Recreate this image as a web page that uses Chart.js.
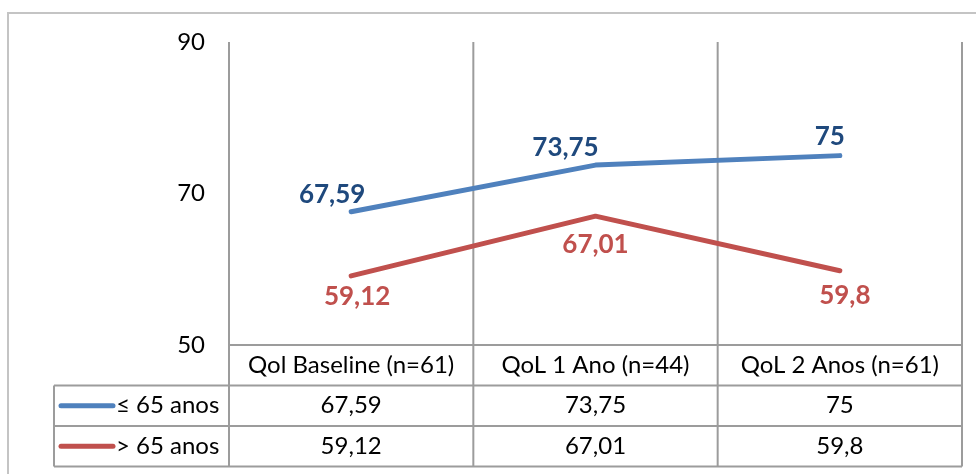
<!DOCTYPE html>
<html>
<head>
<meta charset="utf-8">
<script src="https://cdn.jsdelivr.net/npm/chart.js@4.4.1/dist/chart.umd.min.js"></script>
<style>
  html, body { margin: 0; padding: 0; background: #ffffff; }
  canvas { display: block; }
</style>
</head>
<body>
<canvas id="chart" width="976" height="474"></canvas>
<script>
// Quality-of-life scores by age group
const categories = ['Qol Baseline (n=61)', 'QoL 1 Ano (n=44)', 'QoL 2 Anos (n=61)'];
const seriesNames = ['\u2264 65 anos', '> 65 anos'];
const youngerValues = [67.59, 73.75, 75];
const olderValues = [59.12, 67.01, 59.8];
const yTicks = [50, 70, 90];

const FONT = 'Lato, "Open Sans", sans-serif';
const fmt = v => String(v).replace('.', ',');

const palette = {
  line: ['#4F81BD', '#C0504D'],
  label: ['#1F497D', '#C0504D'],
  grid: '#9c9c9c',
  frame: '#c4c4c4'
};

// Offsets (px) of the value labels from their points
const labelOffsets = [
  [[-19, -17], [-30, -17], [-10, -19]],
  [[6, 21], [0, 28], [5, 25]]
];

const tablePlugin = {
  id: 'dataTable',
  beforeDraw(chart) {
    const ctx = chart.ctx;
    ctx.save();
    ctx.fillStyle = '#ffffff';
    ctx.fillRect(0, 0, chart.width, chart.height);
    // outer frame
    ctx.strokeStyle = palette.frame;
    ctx.lineWidth = 2;
    ctx.beginPath();
    ctx.moveTo(8, chart.height + 2);
    ctx.lineTo(8, 13);
    ctx.lineTo(chart.width + 2, 13);
    ctx.stroke();
    ctx.restore();
  },
  beforeDatasetsDraw(chart) {
    const ctx = chart.ctx;
    const a = chart.chartArea;
    const x = chart.scales.x;
    const rowH = 40.5;
    const tableBottom = a.bottom + rowH * 3;
    const keyLeft = 54;
    ctx.save();
    ctx.strokeStyle = palette.grid;
    ctx.lineWidth = 2;
    ctx.beginPath();
    // column boundaries run from the top of the plot through the table
    const bounds = [a.left];
    categories.forEach((c, i) => {
      const w = x.getPixelForValue(1) - x.getPixelForValue(0);
      bounds.push(x.getPixelForValue(i) + w / 2);
    });
    bounds.forEach(bx => {
      ctx.moveTo(bx, a.top);
      ctx.lineTo(bx, tableBottom);
    });
    // plot bottom / header top
    ctx.moveTo(a.left, a.bottom);
    ctx.lineTo(a.right, a.bottom);
    // series rows
    for (let r = 1; r <= 3; r++) {
      ctx.moveTo(keyLeft, a.bottom + rowH * r);
      ctx.lineTo(a.right, a.bottom + rowH * r);
    }
    ctx.moveTo(keyLeft, a.bottom + rowH);
    ctx.lineTo(keyLeft, tableBottom);
    ctx.stroke();

    // text in the table
    ctx.font = '24px ' + FONT;
    ctx.fillStyle = '#000000';
    ctx.textAlign = 'center';
    ctx.textBaseline = 'middle';
    categories.forEach((c, i) => {
      ctx.fillText(c, x.getPixelForValue(i), a.bottom + rowH * 0.5);
    });
    const rows = [youngerValues, olderValues];
    rows.forEach((vals, r) => {
      const cy = a.bottom + rowH * (r + 1.5);
      vals.forEach((v, i) => {
        ctx.fillText(fmt(v), x.getPixelForValue(i), cy);
      });
      // legend key
      ctx.strokeStyle = palette.line[r];
      ctx.lineWidth = 5;
      ctx.lineCap = 'round';
      ctx.beginPath();
      ctx.moveTo(61, cy);
      ctx.lineTo(113, cy);
      ctx.stroke();
      ctx.textAlign = 'left';
      ctx.fillText(seriesNames[r], 116, cy);
      ctx.textAlign = 'center';
    });
    ctx.restore();
  },
  afterDatasetsDraw(chart) {
    const ctx = chart.ctx;
    ctx.save();
    ctx.font = 'bold 26px ' + FONT;
    ctx.textAlign = 'center';
    ctx.textBaseline = 'middle';
    chart.data.datasets.forEach((ds, d) => {
      const meta = chart.getDatasetMeta(d);
      ctx.fillStyle = palette.label[d];
      meta.data.forEach((pt, i) => {
        const off = labelOffsets[d][i];
        ctx.fillText(fmt(ds.data[i]), pt.x + off[0], pt.y + off[1]);
      });
    });
    ctx.restore();
  }
};

new Chart(document.getElementById('chart'), {
  type: 'line',
  data: {
    labels: categories,
    datasets: [
      { label: seriesNames[0], data: youngerValues, borderColor: palette.line[0] },
      { label: seriesNames[1], data: olderValues, borderColor: palette.line[1] }
    ]
  },
  options: {
    responsive: false,
    animation: false,
    elements: {
      line: { borderWidth: 5, borderCapStyle: 'round', borderJoinStyle: 'round', tension: 0 },
      point: { radius: 0, hoverRadius: 0 }
    },
    layout: { padding: { top: 42, right: 14, bottom: 129, left: 0 } },
    scales: {
      x: { display: false, offset: true },
      y: {
        min: yTicks[0],
        max: yTicks[yTicks.length - 1],
        afterBuildTicks(scale) { scale.ticks = yTicks.map(v => ({ value: v })); },
        afterFit(scale) { scale.width = 229; },
        ticks: { padding: 24, color: '#000000', font: { family: FONT, size: 24 } },
        grid: { display: false, drawTicks: false, tickLength: 0 },
        border: { display: false }
      }
    },
    plugins: { legend: { display: false }, tooltip: { enabled: false } }
  },
  plugins: [tablePlugin]
});
</script>
</body>
</html>
